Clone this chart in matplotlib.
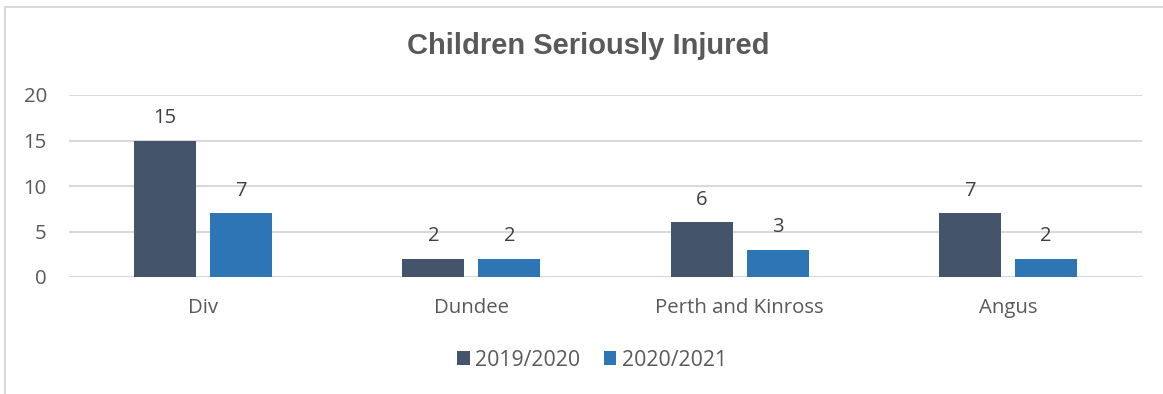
import matplotlib
matplotlib.use("Agg")
import matplotlib.pyplot as plt
from matplotlib.patches import Rectangle
import numpy as np

categories = ["Div", "Dundee", "Perth and Kinross", "Angus"]
series_names = ["2019/2020", "2020/2021"]
values_2019 = [15, 2, 6, 7]
values_2020 = [7, 2, 3, 2]
yticks = [0, 5, 10, 15, 20]

colors = ["#44546A", "#2E75B6"]
W, H = 1163, 394
fig = plt.figure(figsize=(W / 100, H / 100), dpi=100)
plt.rcParams['font.family'] = ['Open Sans', 'DejaVu Sans']

# outer frame
fig.patches.append(Rectangle((5 / W, -0.1), 1.2, (H - 7) / H + 0.1, transform=fig.transFigure,
                             fill=False, edgecolor="#D9D9D9", linewidth=1.5))

ax = fig.add_axes([69 / W, 1 - 277 / H, (1142 - 69) / W, (277 - 95) / H])
x = np.arange(len(categories))
bw = 0.231
off = 0.142
b1 = ax.bar(x - off, values_2019, bw, color=colors[0], label=series_names[0], zorder=3)
b2 = ax.bar(x + off, values_2020, bw, color=colors[1], label=series_names[1], zorder=3)
for bars, vals in ((b1, values_2019), (b2, values_2020)):
    for r, v in zip(bars, vals):
        ax.annotate(str(v), (r.get_x() + r.get_width() / 2, v), xytext=(0, 9),
                    textcoords="offset points", ha="center", va="bottom",
                    fontsize=14.5, color="#404040")

ax.set_xlim(-0.5, len(categories) - 0.5)
ax.set_ylim(0, 20)
ax.set_yticks(yticks)
ax.set_xticks(x)
ax.set_xticklabels(categories)
ax.grid(axis="y", color="#D9D9D9", linewidth=1.5, zorder=0)
for s in ax.spines.values():
    s.set_visible(False)
ax.tick_params(axis="both", length=0, labelsize=14.7, labelcolor="#595959")
ax.tick_params(axis="y", pad=16)
ax.tick_params(axis="x", pad=15)

fig.text(588 / W, 1 - 54 / H, "Children Seriously Injured", ha="center", va="baseline",
         fontsize=21, fontweight="bold", color="#595959", family=["Liberation Sans", "DejaVu Sans"])

fig.legend(handles=[b1, b2], labels=series_names, loc="center", bbox_to_anchor=(592 / W, 1 - 360 / H),
           ncol=2, frameon=False, fontsize=15.3, labelcolor="#595959", handlelength=0.6,
           handleheight=0.6, handletextpad=0.25, columnspacing=1.1)

fig.savefig("out.png", dpi=100)
